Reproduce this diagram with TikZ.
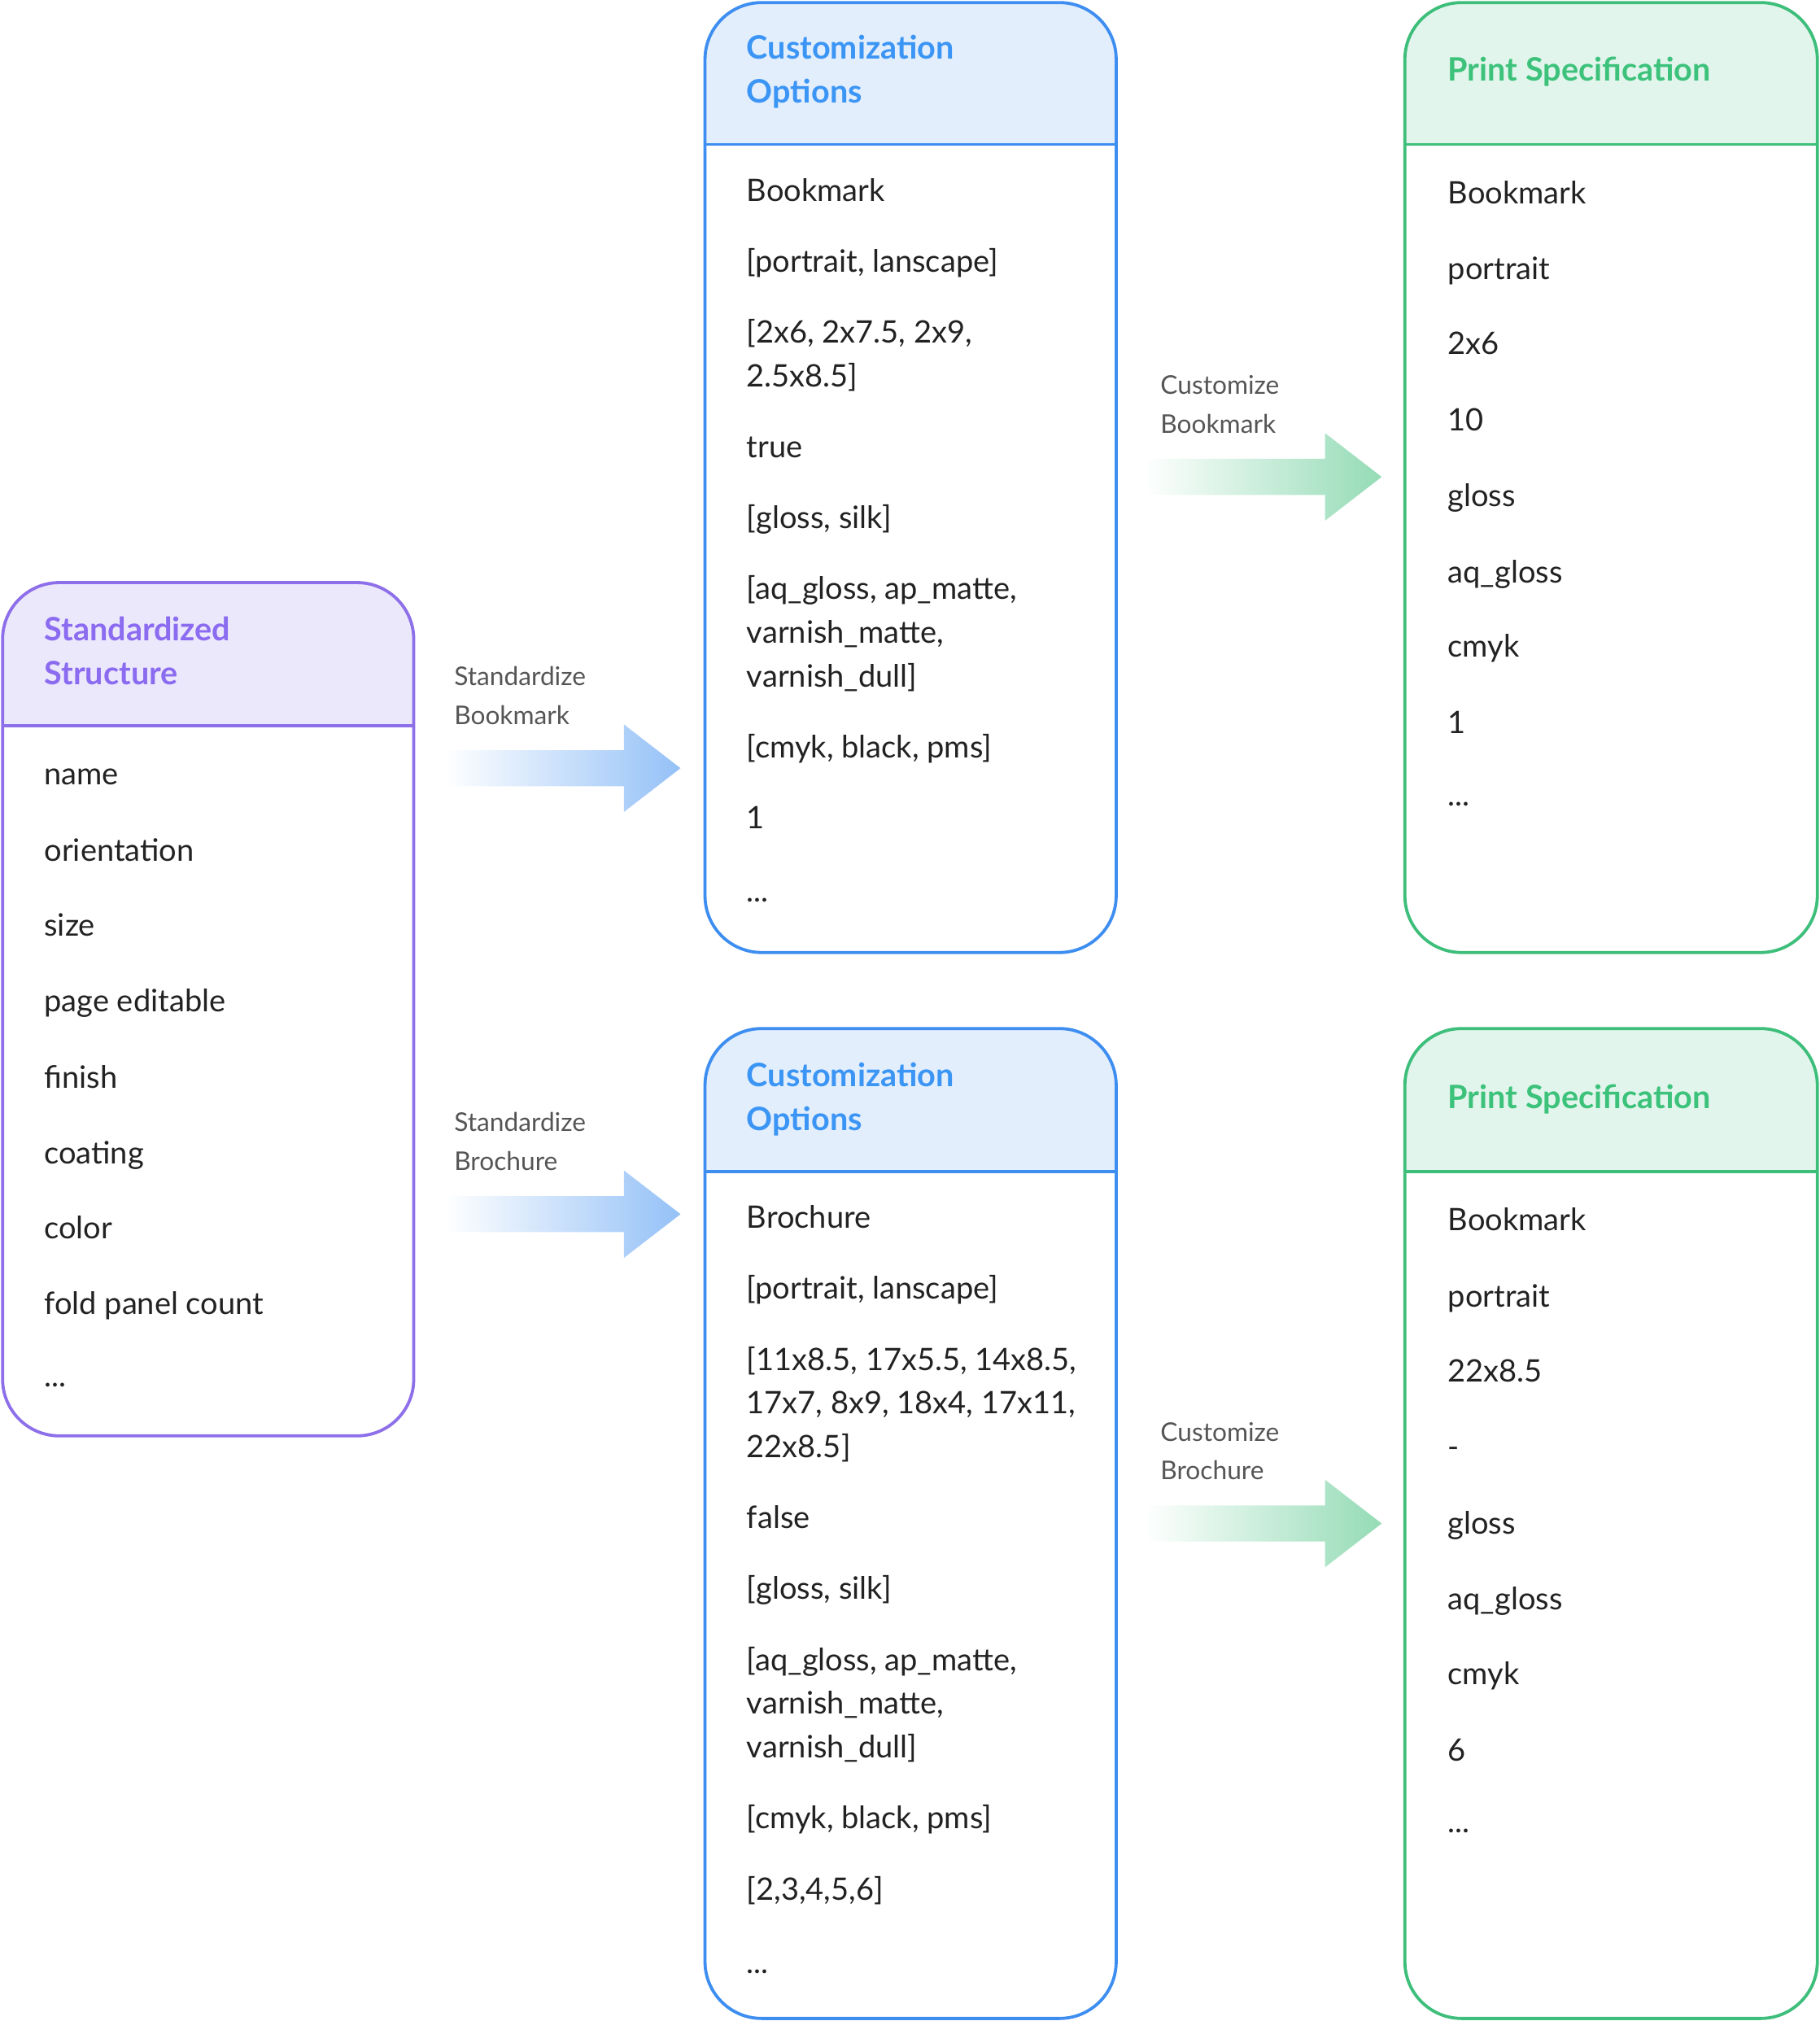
\documentclass[tikz,border=0pt]{standalone}
\usepackage{fontspec}
\setmainfont{Lato}
\definecolor{pB}{HTML}{8E6FEA}\definecolor{pF}{HTML}{ECE8FC}\definecolor{pT}{HTML}{8B6CF0}
\definecolor{bB}{HTML}{3D8EF0}\definecolor{bF}{HTML}{E3EEFD}\definecolor{bT}{HTML}{3B95F5}
\definecolor{gB}{HTML}{3DBE7A}\definecolor{gF}{HTML}{E2F5EC}\definecolor{gT}{HTML}{3CC27A}
\definecolor{txt}{HTML}{222222}\definecolor{lab}{HTML}{555555}
\newcommand\mydots{...}
\newcommand\panel[7]{%
 \begin{scope}\clip[rounded corners=22] (#2,#3) rectangle (#4,#5);
 \fill[#7F] (#2,#3) rectangle (#4,#6);\end{scope}
 \draw[#7B,line width=1.2pt,rounded corners=22] (#2,#3) rectangle (#4,#5);
 \draw[#7B,line width=1.2pt] (#2,#6) -- (#4,#6);
 \coordinate (#1) at (#2,#3);}
\newcommand\fatarrow[5]{%
 \shade[left color=white,right color=#5] (#1,#4-14) -- (#2-44,#4-14) -- (#2-44,#4-34) -- (#2,#4) -- (#2-44,#4+34) -- (#2-44,#4+14) -- (#1,#4+14) -- cycle;}
\tikzset{item/.style={anchor=base west,inner sep=0,font=\fontsize{12}{14}\selectfont,text=txt},
 ttl/.style={anchor=base west,inner sep=0,font=\fontsize{12.5}{14}\selectfont\bfseries},
 lbl/.style={anchor=base west,inner sep=0,font=\fontsize{10}{12}\selectfont,text=lab}}
\begin{document}
\begin{tikzpicture}[x=0.5pt,y=-0.5pt]
\useasboundingbox (0,0) rectangle (1412,1568);
\panel{P}{2}{452}{321}{1114}{563}{p}
\panel{B1}{547}{2}{866}{739}{112}{b}
\panel{G1}{1090}{2}{1410}{739}{112}{g}
\panel{B2}{547}{798}{866}{1566}{909}{b}
\panel{G2}{1090}{798}{1410}{1566}{909}{g}
\fatarrow{345}{528}{0}{596}{bB!55}
\fatarrow{345}{528}{0}{942}{bB!55}
\fatarrow{888}{1072}{0}{370}{gB!55}
\fatarrow{888}{1072}{0}{1182}{gB!55}
\node[lbl] (l1) at (352,532) {Standardize};\node[lbl] (l2) at (352,562) {Bookmark};
\node[lbl] (l3) at (352,878) {Standardize};\node[lbl] (l4) at (352,908) {Brochure};
\node[lbl] (l5) at (900,306) {Customize};\node[lbl] (l6) at (900,336) {Bookmark};
\node[lbl] (l7) at (900,1118) {Customize};\node[lbl] (l8) at (900,1148) {Brochure};
% purple
\node[ttl,text=pT] (pt1) at (34,497) {Standardized};\node[ttl,text=pT] (pt2) at (34,531) {Structure};
\foreach \t/\y [count=\i] in {name/609,orientation/668,size/726,page editable/785,finish/844,coating/903,color/961,fold panel count/1020,\mydots/1076}
 \node[item] (pi\i) at (34,\y) {\t};
% blue top
\node[ttl,text=bT] (bt1) at (579,46) {Customization};\node[ttl,text=bT] (bt2) at (579,80) {Options};
\foreach \t/\y [count=\i] in {Bookmark/156,{[portrait, lanscape]}/211,{[2x6, 2x7.5, 2x9,}/266,{2.5x8.5]}/300,true/355,{[gloss, silk]}/410,{[aq\_gloss, ap\_matte,}/465,{varnish\_matte,}/499,{varnish\_dull]}/533,{[cmyk, black, pms]}/588,1/643,\mydots/700}
 \node[item] (bi\i) at (579,\y) {\t};
% green top
\node[ttl,text=gT] (gt1) at (1123,63) {Print Specification};
\foreach \t/\y [count=\i] in {Bookmark/158,portrait/217,2x6/275,10/334,gloss/393,aq\_gloss/452,cmyk/510,1/569,\mydots/625}
 \node[item] (gi\i) at (1123,\y) {\t};
% blue bottom
\node[ttl,text=bT] (ct1) at (579,843) {Customization};\node[ttl,text=bT] (ct2) at (579,877) {Options};
\foreach \t/\y [count=\i] in {Brochure/953,{[portrait, lanscape]}/1008,{[11x8.5, 17x5.5, 14x8.5,}/1063,{17x7, 8x9, 18x4, 17x11,}/1097,{22x8.5]}/1131,false/1186,{[gloss, silk]}/1241,{[aq\_gloss, ap\_matte,}/1296,{varnish\_matte,}/1330,{varnish\_dull]}/1364,{[cmyk, black, pms]}/1419,{[2,3,4,5,6]}/1474,\mydots/1531}
 \node[item] (ci\i) at (579,\y) {\t};
% green bottom
\node[ttl,text=gT] (ht1) at (1123,860) {Print Specification};
\foreach \t/\y [count=\i] in {Bookmark/955,portrait/1014,22x8.5/1072,-/1131,gloss/1190,aq\_gloss/1249,cmyk/1307,6/1366,\mydots/1422}
 \node[item] (hi\i) at (1123,\y) {\t};
\end{tikzpicture}
\end{document}
